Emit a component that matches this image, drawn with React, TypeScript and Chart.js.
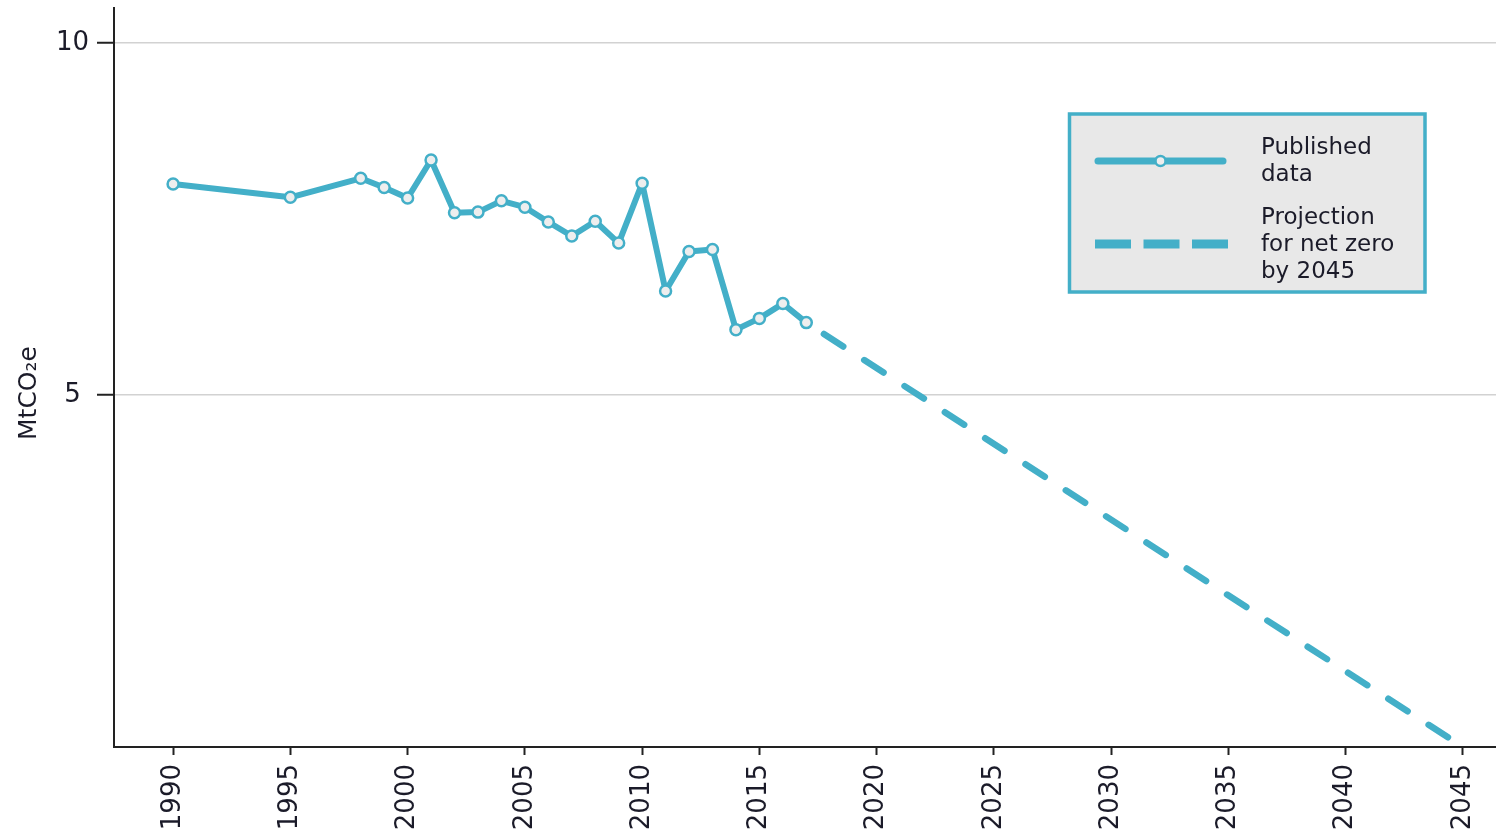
import React, { useEffect, useRef } from 'react';
import { Chart, registerables } from 'chart.js';

Chart.register(...registerables);

// ---- data ----
const publishedYears = [1990, 1995, 1998, 1999, 2000, 2001, 2002, 2003, 2004, 2005, 2006, 2007, 2008, 2009, 2010, 2011, 2012, 2013, 2014, 2015, 2016, 2017];
const publishedValues = [8.0, 7.81, 8.08, 7.95, 7.8, 8.34, 7.59, 7.6, 7.76, 7.67, 7.46, 7.26, 7.47, 7.16, 8.01, 6.48, 7.04, 7.07, 5.93, 6.09, 6.3, 6.03];
const projectionYears = [2017, 2045];
const projectionValues = [6.03, 0];
const xTickValues = [1990, 1995, 2000, 2005, 2010, 2015, 2020, 2025, 2030, 2035, 2040, 2045];
const yTickValues = [5, 10];
const publishedLabelLines = ['Published', 'data'];
const projectionLabelLines = ['Projection', 'for net zero', 'by 2045'];
const yAxisTitle = 'MtCO₂e';

const TEAL = '#43AFC8';
const TEXT = '#1b1b29';
const AXIS = '#222222';
const FONT = 'DejaVu Sans';

const boxLegendPlugin = {
  id: 'boxLegend',
  afterDraw(chart: any) {
    const ctx = chart.ctx as CanvasRenderingContext2D;
    const ds = chart.data.datasets;
    ctx.save();

    // y axis title
    ctx.save();
    ctx.translate(29, 393);
    ctx.rotate(-Math.PI / 2);
    ctx.fillStyle = TEXT;
    ctx.font = `25px "${FONT}"`;
    ctx.textAlign = 'center';
    ctx.textBaseline = 'middle';
    ctx.fillText(yAxisTitle, 0, 0);
    ctx.restore();

    // box
    const bx = 1069.5, by = 114, bw = 355.5, bh = 178;
    ctx.fillStyle = '#e8e8e8';
    ctx.fillRect(bx, by, bw, bh);
    ctx.strokeStyle = TEAL;
    ctx.lineWidth = 3.5;
    ctx.strokeRect(bx, by, bw, bh);

    // solid line sample
    ctx.strokeStyle = ds[0].borderColor;
    ctx.lineWidth = 7;
    ctx.lineCap = 'round';
    ctx.beginPath();
    ctx.moveTo(1098, 161);
    ctx.lineTo(1223, 161);
    ctx.stroke();
    ctx.beginPath();
    ctx.arc(1160.5, 161, 5, 0, Math.PI * 2);
    ctx.fillStyle = ds[0].pointBackgroundColor;
    ctx.fill();
    ctx.lineWidth = 2.5;
    ctx.stroke();

    // dashed sample
    ctx.strokeStyle = ds[1].borderColor;
    ctx.lineWidth = 9;
    ctx.lineCap = 'butt';
    ctx.setLineDash([36, 12.5]);
    ctx.beginPath();
    ctx.moveTo(1095, 244);
    ctx.lineTo(1228, 244);
    ctx.stroke();
    ctx.setLineDash([]);

    // texts
    ctx.fillStyle = TEXT;
    ctx.font = `23px "${FONT}"`;
    ctx.textBaseline = 'alphabetic';
    ctx.textAlign = 'left';
    const lines0: string[] = ds[0].legendLines;
    lines0.forEach((t, i) => ctx.fillText(t, 1261, 154 + i * 27));
    const lines1: string[] = ds[1].legendLines;
    lines1.forEach((t, i) => ctx.fillText(t, 1261, 224 + i * 27));
    ctx.restore();
  },
};

export default function App() {
  const ref = useRef<HTMLCanvasElement | null>(null);

  useEffect(() => {
    if (!ref.current) return;
    const chart = new Chart(ref.current, {
      type: 'line',
      data: {
        datasets: [
          {
            label: publishedLabelLines.join(' '),
            legendLines: publishedLabelLines,
            data: publishedYears.map((x, i) => ({ x, y: publishedValues[i] })),
            borderColor: TEAL,
            borderWidth: 6,
            borderJoinStyle: 'round',
            pointRadius: 5.5,
            pointBorderWidth: 2.5,
            pointBackgroundColor: '#eeeeee',
            pointBorderColor: TEAL,
            tension: 0,
            order: 0,
          } as any,
          {
            label: projectionLabelLines.join(' '),
            legendLines: projectionLabelLines,
            data: projectionYears.map((x, i) => ({ x, y: projectionValues[i] })),
            borderColor: TEAL,
            borderWidth: 6.5,
            borderCapStyle: 'round',
            borderDash: [23, 25],
            borderDashOffset: 27,
            pointRadius: 0,
            tension: 0,
            order: 1,
          } as any,
        ],
      },
      options: {
        responsive: false,
        animation: false,
        devicePixelRatio: 1,
        layout: { autoPadding: false, padding: { top: 8, right: 0, left: 0, bottom: 0 } },
        plugins: {
          legend: { display: false },
          tooltip: { enabled: false },
        },
        scales: {
          x: {
            type: 'linear',
            min: 1987.48,
            max: 2046.41,
            afterBuildTicks: (axis: any) => {
              axis.ticks = xTickValues.map((v) => ({ value: v }));
            },
            afterFit: (axis: any) => {
              axis.height = 90;
              axis.paddingLeft = 0;
              axis.paddingRight = 0;
            },
            ticks: {
              autoSkip: false,
              minRotation: 90,
              maxRotation: 90,
              padding: 9,
              color: TEXT,
              font: { family: FONT, size: 26 },
              callback: (v: any) => String(v),
            },
            grid: {
              drawOnChartArea: false,
              tickLength: 8,
              tickColor: AXIS,
              tickWidth: 2,
            },
            border: { display: true, color: AXIS, width: 2 },
          },
          y: {
            type: 'linear',
            min: 0,
            max: 10.5,
            afterBuildTicks: (axis: any) => {
              axis.ticks = yTickValues.map((v) => ({ value: v }));
            },
            afterFit: (axis: any) => {
              axis.width = 114;
              axis.paddingTop = 0;
              axis.paddingBottom = 0;
            },
            ticks: {
              padding: 8,
              crossAlign: 'center',
              color: TEXT,
              font: { family: FONT, size: 26 },
              callback: (v: any) => String(v),
            },
            grid: {
              color: '#d2d2d2',
              lineWidth: 1.5,
              tickLength: 17,
              tickColor: AXIS,
              tickWidth: 2,
            },
            border: { display: true, color: AXIS, width: 2 },
            title: { display: false },
          },
        },
      } as any,
      plugins: [boxLegendPlugin],
    });
    return () => chart.destroy();
  }, []);

  return (
    <div style={{ position: 'absolute', left: 0, top: 0, width: 1496, height: 837, background: '#ffffff' }}>
      <canvas ref={ref} width={1496} height={837} style={{ display: 'block' }} />
    </div>
  );
}
